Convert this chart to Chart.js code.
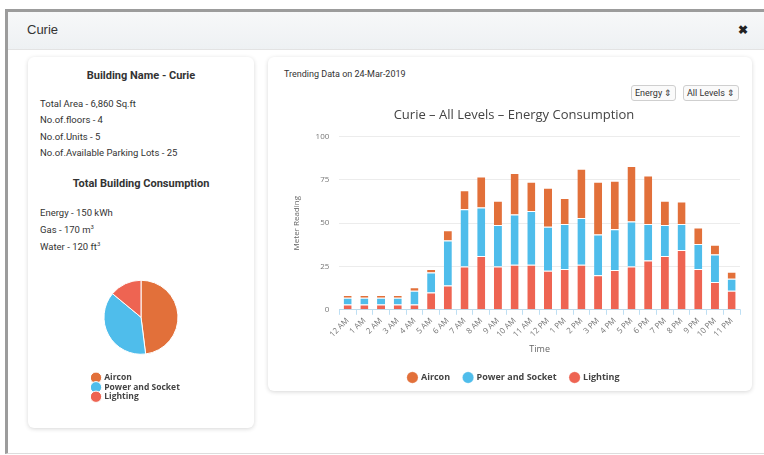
<!DOCTYPE html>
<html lang="en">
<head>
<meta charset="UTF-8">
<title>Curie - Building Dashboard</title>
<script src="https://cdn.jsdelivr.net/npm/chart.js@4.4.1/dist/chart.umd.min.js"></script>
<style>
  html, body { margin: 0; padding: 0; background: #fff; width: 764px; height: 455px; overflow: hidden; font-family: Roboto, 'Open Sans', sans-serif; color: #333; }
  .modal { position: absolute; left: 5px; top: 9px; width: 800px; height: 441px; border-left: 3px solid #9c9c9c; border-top: 3px solid #9c9c9c; border-bottom: 1px solid #ddd; background: #fff; }
  .modal-head { position: absolute; left: 0; top: 0; width: 100%; height: 37px; background: linear-gradient(#f7f8f9, #eef1f3); border-bottom: 1px solid #e3e3e3; }
  .modal-head .name { position: absolute; left: 19px; top: 10px; font-size: 13px; color: #333; font-family: 'Liberation Sans', Arial, sans-serif; }
  .modal-head .close { position: absolute; left: 730px; top: 11px; font-size: 12px; font-weight: bold; color: #222; }
  .card { position: absolute; background: #fff; border-radius: 6px; box-shadow: 0 1px 4px rgba(0,0,0,0.16); }
  #leftCard { left: 28px; top: 57px; width: 226px; height: 371px; }
  #rightCard { left: 268px; top: 57px; width: 484px; height: 334px; }
  .bold { position: absolute; width: 226px; text-align: center; font-weight: bold; font-size: 11px; color: #333; }
  .line { position: absolute; left: 12px; font-size: 9.5px; color: #333; }
  .line sup { font-size: 6px; }
  .trend { position: absolute; left: 16px; top: 12px; font-size: 9px; color: #333; }
  .sel { position: absolute; top: 28px; height: 14px; border: 1px solid #cfcfcf; border-radius: 3px; font-size: 9px; line-height: 14px; padding: 0 3px; color: #333; background: #fafafa; }
  #pieBox { position: absolute; left: 55px; top: 205px; width: 110px; height: 149px; }
  #barBox { position: absolute; left: 14px; top: 47px; width: 466px; height: 288px; }
</style>
</head>
<body>

<div class="modal">
  <div class="modal-head"><span class="name">Curie</span><span class="close">&#10006;</span></div>
</div>

<div class="card" id="leftCard">
  <div class="bold" style="top:12px;">Building Name - Curie</div>
  <div class="line" style="top:41px;">Total Area - 6,860 Sq.ft</div>
  <div class="line" style="top:57px;">No.of.floors - 4</div>
  <div class="line" style="top:74px;">No.of.Units - 5</div>
  <div class="line" style="top:90px;">No.of.Available Parking Lots - 25</div>
  <div class="bold" style="top:120px;">Total Building Consumption</div>
  <div class="line" style="top:150px;">Energy - 150 kWh</div>
  <div class="line" style="top:166px;">Gas - 170 m<sup>3</sup></div>
  <div class="line" style="top:183px;">Water - 120 ft<sup>3</sup></div>
  <div id="pieBox"><canvas id="pieChart"></canvas></div>
</div>

<div class="card" id="rightCard">
  <div class="trend">Trending Data on 24-Mar-2019</div>
  <div class="sel" style="left:363px;">Energy &#8661;</div>
  <div class="sel" style="left:415px;">All Levels &#8661;</div>
  <div id="barBox"><canvas id="barChart"></canvas></div>
</div>

<script>
// hourly readings for 24-Mar-2019
const hours = ['12 AM', '1 AM', '2 AM', '3 AM', '4 AM', '5 AM', '6 AM', '7 AM', '8 AM', '9 AM', '10 AM', '11 AM',
               '12 PM', '1 PM', '2 PM', '3 PM', '4 PM', '5 PM', '6 PM', '7 PM', '8 PM', '9 PM', '10 PM', '11 PM'];
const aircon   = [1.5, 1.5, 1.5, 1.5, 2, 2, 6, 11, 18, 14, 24, 17, 22.5, 15, 28.5, 30.5, 28, 32, 28, 14, 13, 9.5, 5.5, 4];
const power    = [4, 4, 4, 4, 8, 11.5, 26, 33, 28, 24, 29, 31, 25.5, 26, 27, 23.5, 23.5, 26, 21, 18, 15, 14.5, 16, 7];
const lighting = [3, 3, 3, 3, 3, 10, 14, 25, 31, 25, 26, 26, 22.5, 23.5, 26, 20, 23, 25, 28.5, 31, 34.5, 23.5, 16, 11];
const yTicks = [0, 25, 50, 75, 100];

// building totals split
const pieLabels = ['Aircon', 'Power and Socket', 'Lighting'];
const pieValues = [48, 38, 14];

const colors = { aircon: '#e2703a', power: '#4fbdeb', lighting: '#ee6452' };

Chart.defaults.font.family = "'Open Sans', sans-serif";
Chart.defaults.animation = false;

new Chart(document.getElementById('pieChart'), {
    type: 'pie',
    data: {
        labels: pieLabels,
        datasets: [{
            data: pieValues,
            backgroundColor: [colors.aircon, colors.power, colors.lighting],
            borderColor: '#fff',
            borderWidth: 1
        }]
    },
    options: {
        responsive: true,
        maintainAspectRatio: false,
        radius: 37,
        layout: { padding: { left: 8, right: 2 } },
        plugins: {
            tooltip: { enabled: false },
            legend: {
                position: 'bottom',
                align: 'start',
                labels: {
                    usePointStyle: true,
                    pointStyle: 'circle',
                    boxWidth: 8,
                    boxHeight: 8,
                    padding: 1,
                    color: '#444',
                    font: { size: 8.5, weight: 'bold' }
                }
            }
        }
    }
});

new Chart(document.getElementById('barChart'), {
    type: 'bar',
    data: {
        labels: hours,
        datasets: [
            { label: 'Lighting', data: lighting, backgroundColor: colors.lighting },
            { label: 'Power and Socket', data: power, backgroundColor: colors.power },
            { label: 'Aircon', data: aircon, backgroundColor: colors.aircon }
        ]
    },
    options: {
        responsive: true,
        maintainAspectRatio: false,
        datasets: {
            bar: {
                barPercentage: 0.6,
                categoryPercentage: 0.8,
                borderColor: '#fff',
                borderWidth: { top: 1, left: 0, right: 0, bottom: 0 },
                borderSkipped: false
            }
        },
        layout: { padding: { left: 6, right: 8 } },
        plugins: {
            tooltip: { enabled: false },
            title: {
                display: true,
                text: 'Curie \u2013 All Levels \u2013 Energy Consumption',
                color: '#444',
                font: { size: 13, weight: 'normal' },
                padding: { top: 3, bottom: 14 }
            },
            legend: {
                position: 'bottom',
                reverse: true,
                labels: {
                    usePointStyle: true,
                    pointStyle: 'circle',
                    boxWidth: 8,
                    boxHeight: 8,
                    padding: 14,
                    color: '#444',
                    font: { size: 9, weight: 'bold' }
                }
            }
        },
        scales: {
            x: {
                stacked: true,
                grid: { drawOnChartArea: false, tickLength: 5, color: 'rgba(110,185,230,0.45)' },
                border: { color: 'rgba(110,185,230,0.35)' },
                ticks: { autoSkip: false, minRotation: 45, maxRotation: 45, color: '#777', font: { size: 8 }, padding: 1 },
                title: { display: true, text: 'Time', color: '#666', font: { size: 9 } }
            },
            y: {
                stacked: true,
                min: yTicks[0],
                max: yTicks[yTicks.length - 1],
                afterBuildTicks: axis => { axis.ticks = yTicks.map(v => ({ value: v })); },
                grid: { drawTicks: false, color: '#ececec' },
                border: { display: false },
                ticks: { color: '#777', font: { size: 8 }, padding: 10 },
                title: { display: true, text: 'Meter Reading', color: '#666', font: { size: 8 } }
            }
        }
    }
});
</script>

</body>
</html>
